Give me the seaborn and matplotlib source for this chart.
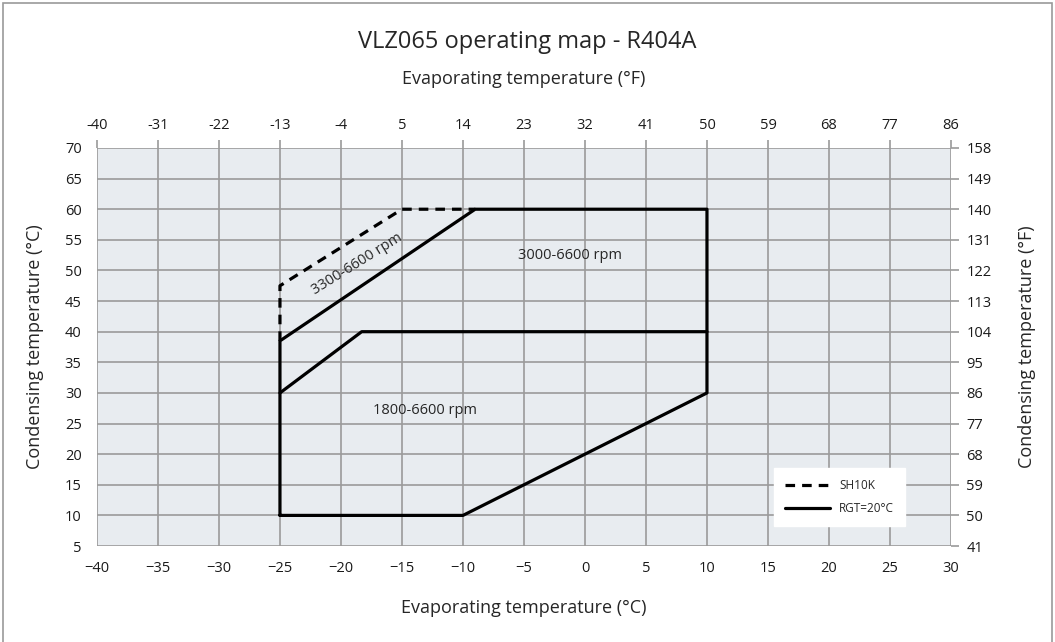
import numpy as np
import pandas as pd
import matplotlib
matplotlib.use("Agg")
import matplotlib.pyplot as plt
import seaborn as sns
from matplotlib.patches import Rectangle

# 運転範囲データ（蒸発温度 °C, 凝縮温度 °C）
outer_te = [-25, -10, 10, 10, -9, -25, -25]
outer_tc = [10, 10, 30, 60, 60, 38.5, 10]
inner_te = [-25, -18.3, 10]
inner_tc = [30, 40, 40]
sh10k_te = [-25, -25, -15, -9]
sh10k_tc = [38.5, 47.5, 60, 60]

x_ticks_c = list(range(-40, 35, 5))
y_ticks_c = list(range(5, 75, 5))

grid_col = "#9a9a9a"
sns.set_style("whitegrid", {"axes.facecolor": "#e8ecf0", "grid.color": grid_col})
plt.rcParams['font.family'] = ['Open Sans', 'DejaVu Sans']

fig = plt.figure(figsize=(10.55, 6.42), dpi=100)
ax = fig.add_axes([0.0919, 0.1495, 0.8095, 0.62])

df_outer = pd.DataFrame({"te": outer_te, "tc": outer_tc})
df_inner = pd.DataFrame({"te": inner_te, "tc": inner_tc})
df_sh = pd.DataFrame({"te": sh10k_te, "tc": sh10k_tc})

sns.lineplot(data=df_outer, x="te", y="tc", sort=False, estimator=None, color="black",
             lw=2.3, ax=ax, label="RGT=20°C")
sns.lineplot(data=df_inner, x="te", y="tc", sort=False, estimator=None, color="black",
             lw=2.3, ax=ax)
sns.lineplot(data=df_sh, x="te", y="tc", sort=False, estimator=None, color="black",
             lw=2.3, ax=ax, linestyle=(0, (3.0, 2.2)), label="SH10K")

ax.set_xlim(-40, 30)
ax.set_ylim(5, 70)
ax.set_xticks(x_ticks_c)
ax.set_yticks(y_ticks_c)
ax.grid(True, lw=1.2)
for s in ax.spines.values():
    s.set_visible(False)
tick_kw = dict(direction="out", length=6, width=1.2, color=grid_col, labelsize=10.5,
               labelcolor="#1a1a1a", pad=5)
ax.tick_params(axis="both", **tick_kw)
ax.set_xlabel("Evaporating temperature (°C)", fontsize=13, labelpad=16)
ax.set_ylabel("Condensing temperature (°C)", fontsize=13, labelpad=15)

# 華氏の副軸
top = ax.secondary_xaxis("top", functions=(lambda c: c * 9 / 5 + 32, lambda f: (f - 32) * 5 / 9))
top.set_xticks([c * 9 / 5 + 32 for c in x_ticks_c])
top.set_xticklabels([f"{c * 9 / 5 + 32:.0f}" for c in x_ticks_c])
top.tick_params(**tick_kw)
top.spines["top"].set_visible(False)
top.set_xlabel("Evaporating temperature (°F)", fontsize=13, labelpad=24)

right = ax.secondary_yaxis("right", functions=(lambda c: c * 9 / 5 + 32, lambda f: (f - 32) * 5 / 9))
right.set_yticks([c * 9 / 5 + 32 for c in y_ticks_c])
right.set_yticklabels([f"{c * 9 / 5 + 32:.0f}" for c in y_ticks_c])
right.tick_params(**tick_kw)
right.spines["right"].set_visible(False)
right.set_ylabel("Condensing temperature (°F)", fontsize=13, labelpad=19)

# 回転数範囲ラベル
ax.text(-18.7, 51.1, "3300-6600 rpm", rotation=32, fontsize=10.5, ha="center", va="center")
ax.text(-1.2, 52.4, "3000-6600 rpm", fontsize=10.5, ha="center", va="center")
ax.text(-13.1, 27.2, "1800-6600 rpm", fontsize=10.5, ha="center", va="center")

handles, labels = ax.get_legend_handles_labels()
leg = ax.legend(handles[::-1], labels[::-1], loc="lower right", bbox_to_anchor=(0.946, 0.05),
                fontsize=8.5, frameon=True, facecolor="white", edgecolor="white",
                framealpha=1, fancybox=False, handlelength=3.8, borderpad=0.9,
                labelspacing=0.9, borderaxespad=0)

fig.text(0.5, 0.935, "VLZ065 operating map - R404A", ha="center", va="center", fontsize=17)

fig.patches.append(Rectangle((0.003, -0.01), 0.994, 1.005, transform=fig.transFigure,
                             fill=False, edgecolor="#9a9a9a", lw=1.2))

fig.savefig("out.png", dpi=100)
